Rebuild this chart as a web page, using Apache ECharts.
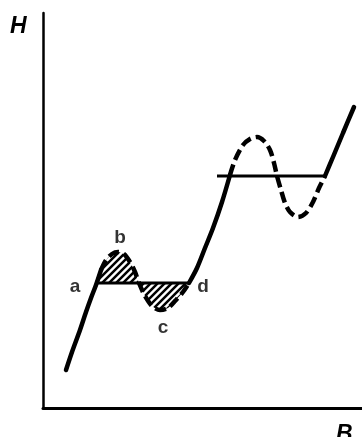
<!DOCTYPE html>
<html>
<head>
<meta charset="utf-8">
<script src="https://cdn.jsdelivr.net/npm/echarts@6/dist/echarts.min.js"></script>
<style>
  html, body { margin: 0; padding: 0; background: #fff; }
  #chart { width: 362px; height: 437px; }
</style>
</head>
<body>
<div id="chart"></div>
<script>
// B / H values (arbitrary units)
const solid1B = [23, 29, 37, 43, 48, 53, 58]
const solid1H = [38, 56, 78, 96, 110, 123, 138]

const loop1B = [58, 63, 69, 75, 81, 87, 92, 96, 102, 109, 117, 125, 133, 140, 146]
const loop1H = [138, 148, 154, 156, 154, 146, 136, 125, 112, 102, 98, 100, 108, 116, 125]

const solid2B = [146, 154, 162, 170, 179, 187]
const solid2H = [125, 140, 160, 180, 206, 233]

const loop2B = [187, 192, 200, 207, 214, 221, 227, 231, 234, 238, 242, 247, 255, 263, 270, 276, 282]
const loop2H = [233, 248, 263, 269, 271, 267, 258, 245, 232, 218, 205, 196, 191, 195, 206, 220, 232]

const solid3B = [282, 290, 300, 311]
const solid3H = [232, 251, 275, 301]

// equal-area lines
const level1B = [55, 147]
const level1H = 125
const level2B = [174, 282]
const level2H = 232

// marked points
const pointNames = ['a', 'b', 'c', 'd']
const pointB = [55, 75, 117, 147]
const pointH = [125, 156, 98, 125]

const zip = (xs, ys) => xs.map((x, i) => [x, ys[i]])

// diagonal hatch tile
const makeHatch = () => {
    const s = 7
    const c = document.createElement('canvas')
    c.width = s
    c.height = s
    const ctx = c.getContext('2d')
    ctx.strokeStyle = '#000'
    ctx.lineWidth = 2.5
    ctx.beginPath()
    ctx.moveTo(-1, s + 1); ctx.lineTo(s + 1, -1)
    ctx.moveTo(-2, 2); ctx.lineTo(2, -2)
    ctx.moveTo(s - 2, s + 2); ctx.lineTo(s + 2, s - 2)
    ctx.stroke()
    return c
}

const chart = echarts.init(document.getElementById('chart'))

const solidStyle = { color: '#000', width: 4.5, cap: 'round' }
const dashStyle = { color: '#000', width: 4.5, type: [11, 5] }
const labelOffsets = [[-23, 4], [2, -14], [3, 18], [13, 4]]

const option = {
    animation: false,
    grid: { left: 43, right: 0, top: 13, bottom: 29 },
    xAxis: {
        type: 'value', min: 0, max: 319,
        axisLine: { onZero: false, lineStyle: { color: '#000', width: 3 } },
        axisTick: { show: false }, axisLabel: { show: false }, splitLine: { show: false }
    },
    yAxis: {
        type: 'value', min: 0, max: 395,
        axisLine: { show: true, onZero: false, lineStyle: { color: '#000', width: 2.5 } },
        axisTick: { show: false }, axisLabel: { show: false }, splitLine: { show: false }
    },
    graphic: [
        { type: 'text', left: 10, top: 15, style: { text: 'H', font: 'italic bold 23px "Liberation Sans", Arial', fill: '#000' } },
        { type: 'text', left: 336, top: 423, style: { text: 'B', font: 'italic bold 23px "Liberation Sans", Arial', fill: '#000' } }
    ],
    series: [
        {
            type: 'line', z: 1, symbol: 'none', smooth: 0.3,
            data: [[pointB[0], level1H]].concat(zip(loop1B, loop1H)),
            lineStyle: { width: 0 },
            areaStyle: { origin: level1H, opacity: 1, color: { image: makeHatch(), repeat: 'repeat' } }
        },
        { type: 'line', z: 3, symbol: 'none', smooth: 0.3, data: zip(solid1B, solid1H), lineStyle: solidStyle },
        { type: 'line', z: 3, symbol: 'none', smooth: 0.3, data: zip(loop1B, loop1H), lineStyle: dashStyle },
        { type: 'line', z: 3, symbol: 'none', smooth: 0.3, data: zip(solid2B, solid2H), lineStyle: solidStyle },
        { type: 'line', z: 3, symbol: 'none', smooth: 0.3, data: zip(loop2B, loop2H), lineStyle: dashStyle },
        { type: 'line', z: 3, symbol: 'none', smooth: 0.3, data: zip(solid3B, solid3H), lineStyle: solidStyle },
        { type: 'line', z: 2, symbol: 'none', data: level1B.map(b => [b, level1H]), lineStyle: { color: '#000', width: 3 } },
        { type: 'line', z: 2, symbol: 'none', data: level2B.map(b => [b, level2H]), lineStyle: { color: '#000', width: 3 } },
        {
            type: 'scatter', z: 4, symbolSize: 1, itemStyle: { color: 'transparent' },
            data: pointNames.map((n, i) => ({
                name: n,
                value: [pointB[i], pointH[i]],
                label: {
                    show: true, position: 'inside', offset: labelOffsets[i],
                    formatter: '{b}', color: '#000',
                    fontFamily: '"Liberation Sans", Arial', fontWeight: 'bold', fontSize: 19
                }
            }))
        }
    ]
}

chart.setOption(option)
</script>
</body>
</html>
